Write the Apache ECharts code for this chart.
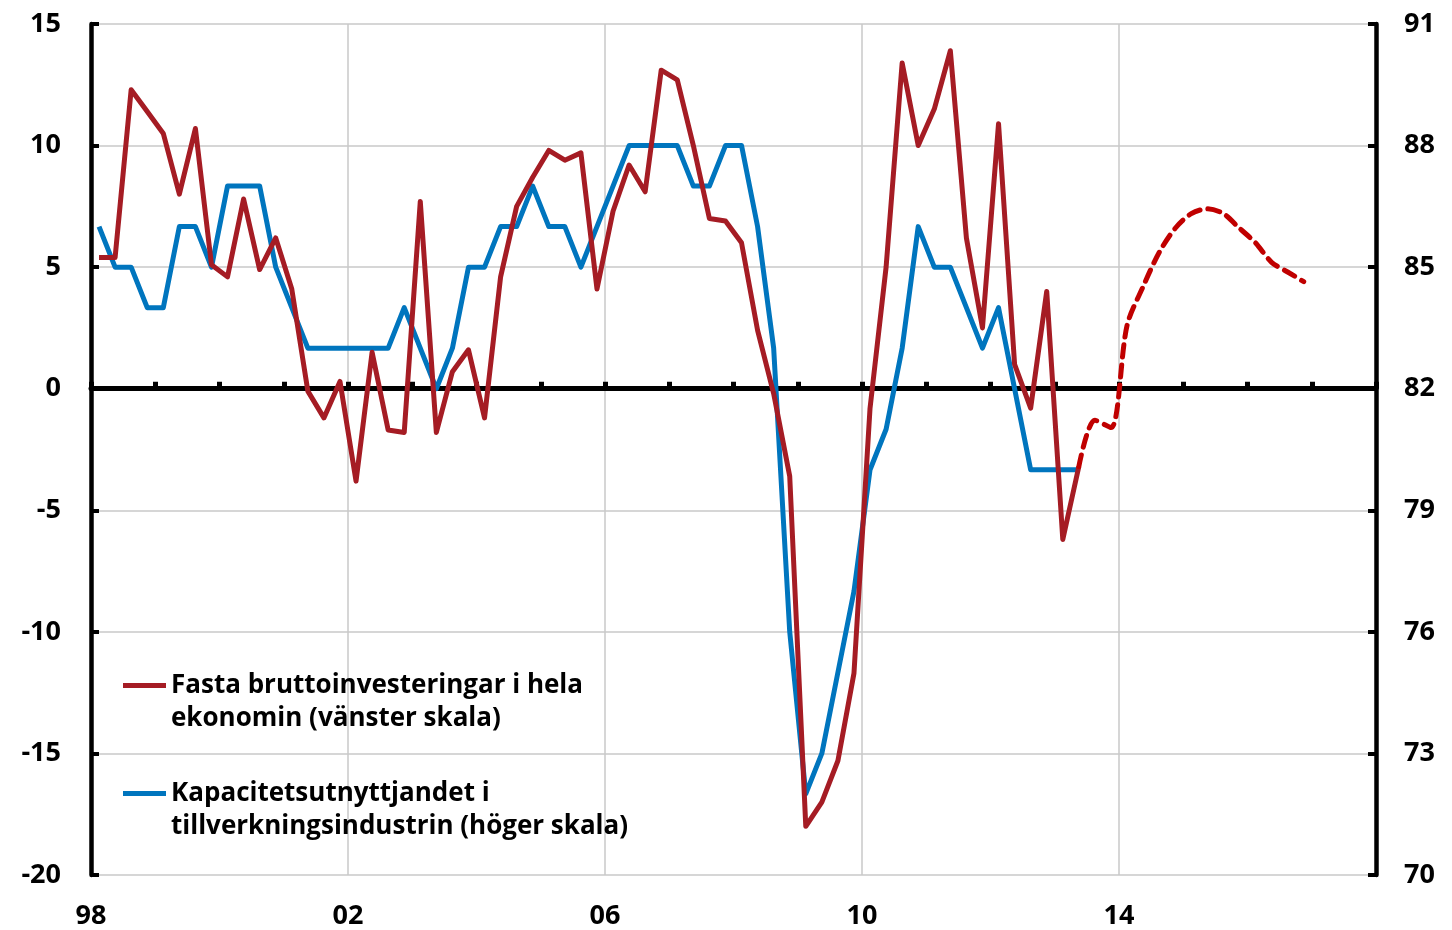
<!DOCTYPE html>
<html>
<head>
<meta charset="utf-8">
<script src="https://cdn.jsdelivr.net/npm/echarts@6/dist/echarts.min.js"></script>
<style>
html, body { margin: 0; padding: 0; background: #fff; }
#chart { width: 1452px; height: 930px; }
</style>
</head>
<body>
<div id="chart"></div>
<script>
// kvartalsdata, forsta kvartalet 1998 = index 0
var startYear = 1998;
var xTicks = [1998, 2002, 2006, 2010, 2014, 2018];

// Fasta bruttoinvesteringar, årlig procentuell förändring (vänster skala)
var invest = [5.4, 5.4, 12.3, 11.4, 10.5, 8.0, 10.7, 5.1, 4.6, 7.8, 4.9, 6.2, 4.1, -0.1, -1.2, 0.3,
	-3.8, 1.5, -1.7, -1.8, 7.7, -1.8, 0.7, 1.6, -1.2, 4.6, 7.5, 8.7, 9.8, 9.4, 9.7, 4.1,
	7.3, 9.2, 8.1, 13.1, 12.7, 10.0, 7.0, 6.9, 6.0, 2.4, -0.2, -3.6, -18.0, -17.0, -15.3, -11.7,
	-0.8, 5.0, 13.4, 10.0, 11.5, 13.9, 6.2, 2.5, 10.9, 1.0, -0.8, 4.0, -6.2, -3.2];
// prognos, börjar vid sista utfallet (index 61)
var prognosStart = 61;
var investPrognos = [-3.2, -1.3, -1.6, 2.6, 4.2, 5.6, 6.6, 7.2, 7.4, 7.2, 6.6, 6.0, 5.2, 4.8, 4.4];

// Kapacitetsutnyttjandet i tillverkningsindustrin, procent (höger skala)
var kapacitet = [86, 85, 85, 84, 84, 86, 86, 85, 87, 87, 87, 85, 84, 83, 83, 83,
	83, 83, 83, 84, 83, 82, 83, 85, 85, 86, 86, 87, 86, 86, 85, 86,
	87, 88, 88, 88, 88, 87, 87, 88, 88, 86, 83, 76, 72, 73, 75, 77,
	80, 81, 83, 86, 85, 85, 84, 83, 84, 82, 80, 80, 80, 80];

var legendNames = ['Fasta bruttoinvesteringar i hela ekonomin (vänster skala)',
	'Kapacitetsutnyttjandet i tillverkningsindustrin (höger skala)'];
// tom forsta rad sa att ikonen hamnar vid textens forsta rad
var legendLines = {};
legendLines[legendNames[0]] = ' \nFasta bruttoinvesteringar i hela\nekonomin (vänster skala)';
legendLines[legendNames[1]] = ' \nKapacitetsutnyttjandet i\ntillverkningsindustrin (höger skala)';

function quarterPos(i){
	return startYear + (i + 0.5) / 4;
}
function toPoints(values, offset){
	return values.map(function(v, i){ return [quarterPos(i + offset), v]; });
}

var FONT = '"Open Sans", "Noto Sans", sans-serif';
var RED = '#a51c24';
var RED_F = '#c00000';
var BLUE = '#0075be';
var GRID = '#c8c8c8';

var chart = echarts.init(document.getElementById('chart'));
var option = {
	animation: false,
	backgroundColor: '#fff',
	textStyle: { fontFamily: FONT },
	grid: { left: 91, right: 76, top: 24, bottom: 55, containLabel: false },
	legend: {
		orient: 'vertical',
		left: 118,
		top: 631,
		itemWidth: 43,
		itemHeight: 5,
		itemGap: 9,
		itemTextGap: 0,
		icon: 'rect',
		data: legendNames,
		formatter: function(name){ return legendLines[name]; },
		textStyle: {
			fontFamily: FONT,
			fontWeight: 'bold',
			fontSize: 26,
			lineHeight: 33,
			color: '#000'
		}
	},
	xAxis: [
		{
			type: 'value',
			min: 1998,
			max: 2018,
			interval: 4,
			position: 'bottom',
			axisLine: { show: false, onZero: false },
			axisTick: { show: false },
			splitLine: { show: true, lineStyle: { color: GRID, width: 1.5 } },
			axisLabel: {
				showMaxLabel: false,
				margin: 28,
				fontFamily: FONT,
				fontWeight: 'bold',
				fontSize: 27,
				color: '#000',
				formatter: function(v){ return String(v).slice(2); }
			}
		},
		{
			// nollinjen med årsmarkeringar
			type: 'value',
			min: 1998,
			max: 2018,
			interval: 1,
			position: 'top',
			axisLine: { show: true, onZero: true, onZeroAxisIndex: 0, lineStyle: { color: '#000', width: 5 } },
			axisTick: { show: true, inside: false, length: 7, lineStyle: { color: '#000', width: 5 } },
			axisLabel: { show: false },
			splitLine: { show: false }
		}
	],
	yAxis: [
		{
			type: 'value',
			min: -20,
			max: 15,
			interval: 5,
			position: 'left',
			axisLine: { show: true, onZero: false, lineStyle: { color: '#000', width: 4.5 } },
			axisTick: { show: true, inside: true, length: 8, lineStyle: { color: '#000', width: 4 } },
			splitLine: { show: true, lineStyle: { color: GRID, width: 1.5 } },
			axisLabel: { margin: 30, fontFamily: FONT, fontWeight: 'bold', fontSize: 27, color: '#000' }
		},
		{
			type: 'value',
			min: 70,
			max: 91,
			interval: 3,
			position: 'right',
			axisLine: { show: true, onZero: false, lineStyle: { color: '#000', width: 4.5 } },
			axisTick: { show: true, inside: true, length: 8, lineStyle: { color: '#000', width: 4 } },
			splitLine: { show: false },
			axisLabel: { margin: 28, fontFamily: FONT, fontWeight: 'bold', fontSize: 27, color: '#000' }
		}
	],
	series: [
		{
			name: legendNames[1],
			type: 'line',
			yAxisIndex: 1,
			showSymbol: false,
			itemStyle: { color: BLUE },
			lineStyle: { color: BLUE, width: 5, join: 'round' },
			data: toPoints(kapacitet, 0)
		},
		{
			name: legendNames[0],
			type: 'line',
			yAxisIndex: 0,
			showSymbol: false,
			itemStyle: { color: RED },
			lineStyle: { color: RED, width: 5, join: 'round' },
			data: toPoints(invest, 0)
		},
		{
			name: 'Prognos',
			type: 'line',
			yAxisIndex: 0,
			showSymbol: false,
			smooth: 0.3,
			itemStyle: { color: RED_F },
			lineStyle: { color: RED_F, width: 5, type: [12, 8], cap: 'round' },
			data: toPoints(investPrognos, prognosStart)
		}
	]
};
chart.setOption(option);
</script>
</body>
</html>
